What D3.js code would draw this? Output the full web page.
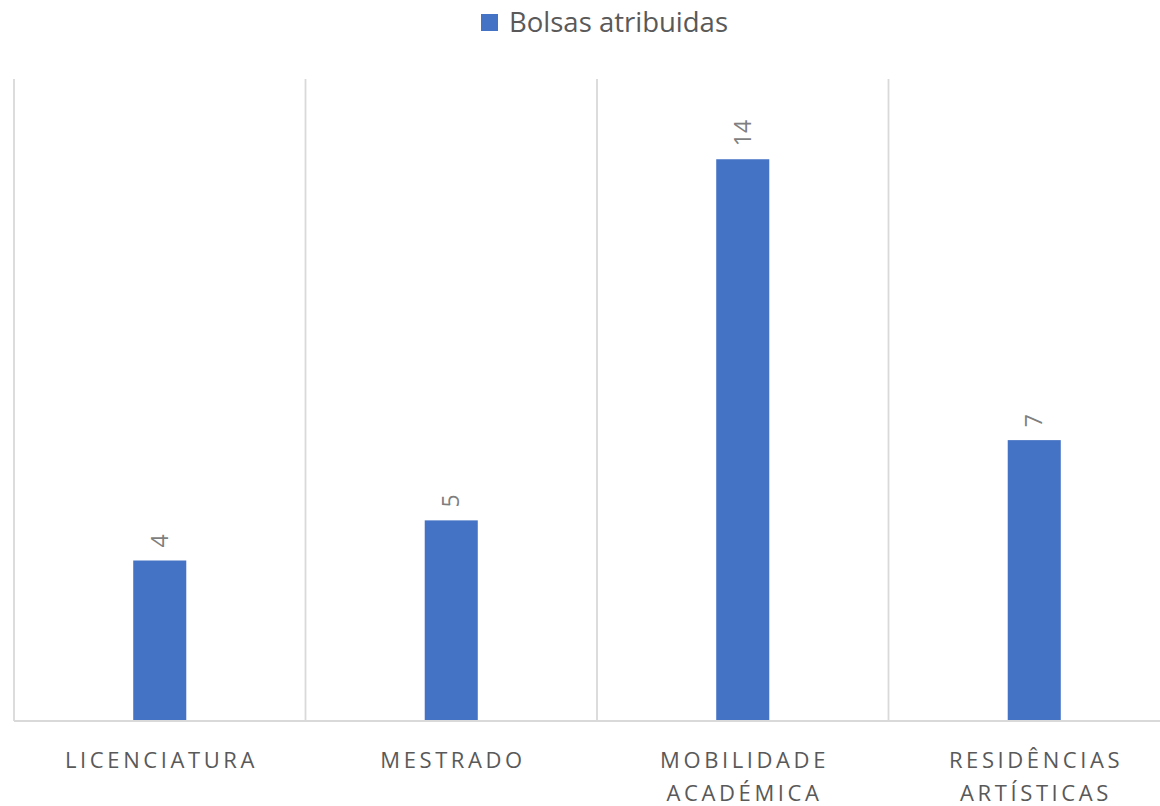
<!DOCTYPE html>
<html>
<head>
<meta charset="utf-8">
<script src="https://cdn.jsdelivr.net/npm/d3@7"></script>
<style>
  html, body { margin: 0; padding: 0; background: #fff; }
  svg { display: block; }
</style>
</head>
<body>
<svg id="chart" width="1160" height="806"></svg>
<script>
const categories = [["LICENCIATURA"], ["MESTRADO"], ["MOBILIDADE", "ACADÉMICA"], ["RESIDÊNCIAS", "ARTÍSTICAS"]];
const seriesName = "Bolsas atribuidas";
const values = [4, 5, 14, 7];
const yMax = 16;

const svg = d3.select("#chart");
const FONT = "'Open Sans', 'Noto Sans', sans-serif";
const keys = categories.map(c => c.join(" "));

const x = d3.scaleBand().domain(keys).range([14, 14 + 4 * 291.5]).padding(0);
const y = d3.scaleLinear().domain([0, yMax]).range([721, 79]);
const barW = x.bandwidth() * 0.182;

// vertical gridlines at category boundaries
const bounds = keys.map(k => x(k)).concat([x.range()[1]]);
svg.append("g").selectAll("line").data(bounds).join("line")
  .attr("x1", d => d).attr("x2", d => d)
  .attr("y1", y(yMax)).attr("y2", y(0))
  .attr("stroke", "#d9d9d9").attr("stroke-width", 1.8);

// bars
svg.append("g").selectAll("rect").data(values).join("rect")
  .attr("x", (d, i) => x(keys[i]) + x.bandwidth() / 2 - barW / 2)
  .attr("width", barW)
  .attr("y", d => y(d))
  .attr("height", d => y(0) - y(d))
  .attr("fill", "#4472c4");

// baseline
svg.append("line")
  .attr("x1", 14).attr("x2", x.range()[1])
  .attr("y1", y(0)).attr("y2", y(0))
  .attr("stroke", "#d9d9d9").attr("stroke-width", 1.8);

// data labels (rotated)
svg.append("g").selectAll("text").data(values).join("text")
  .attr("transform", (d, i) => `translate(${x(keys[i]) + x.bandwidth() / 2},${y(d) - 13}) rotate(-90)`)
  .attr("text-anchor", "start")
  .attr("dy", "0.35em")
  .attr("font-family", FONT)
  .attr("font-size", 23)
  .attr("fill", "#7f7f7f")
  .text(d => d);

// category labels
const lab = svg.append("g").selectAll("text").data(categories).join("text")
  .attr("text-anchor", "middle")
  .attr("font-family", FONT)
  .attr("font-size", 22)
  .attr("letter-spacing", "3.6px")
  .attr("fill", "#595959");
lab.each(function(lines, i) {
  const t = d3.select(this);
  lines.forEach((ln, j) => {
    t.append("tspan")
      .attr("x", x(keys[i]) + x.bandwidth() / 2 + 1.8)
      .attr("y", 768 + j * 33)
      .text(ln);
  });
});

// legend
const leg = svg.append("g");
leg.append("rect").attr("x", 481).attr("y", 14).attr("width", 17).attr("height", 17).attr("fill", "#4472c4");
leg.append("text").attr("x", 509).attr("y", 32)
  .attr("font-family", FONT).attr("font-size", 27.5).attr("fill", "#595959")
  .text(seriesName);
</script>
</body>
</html>
